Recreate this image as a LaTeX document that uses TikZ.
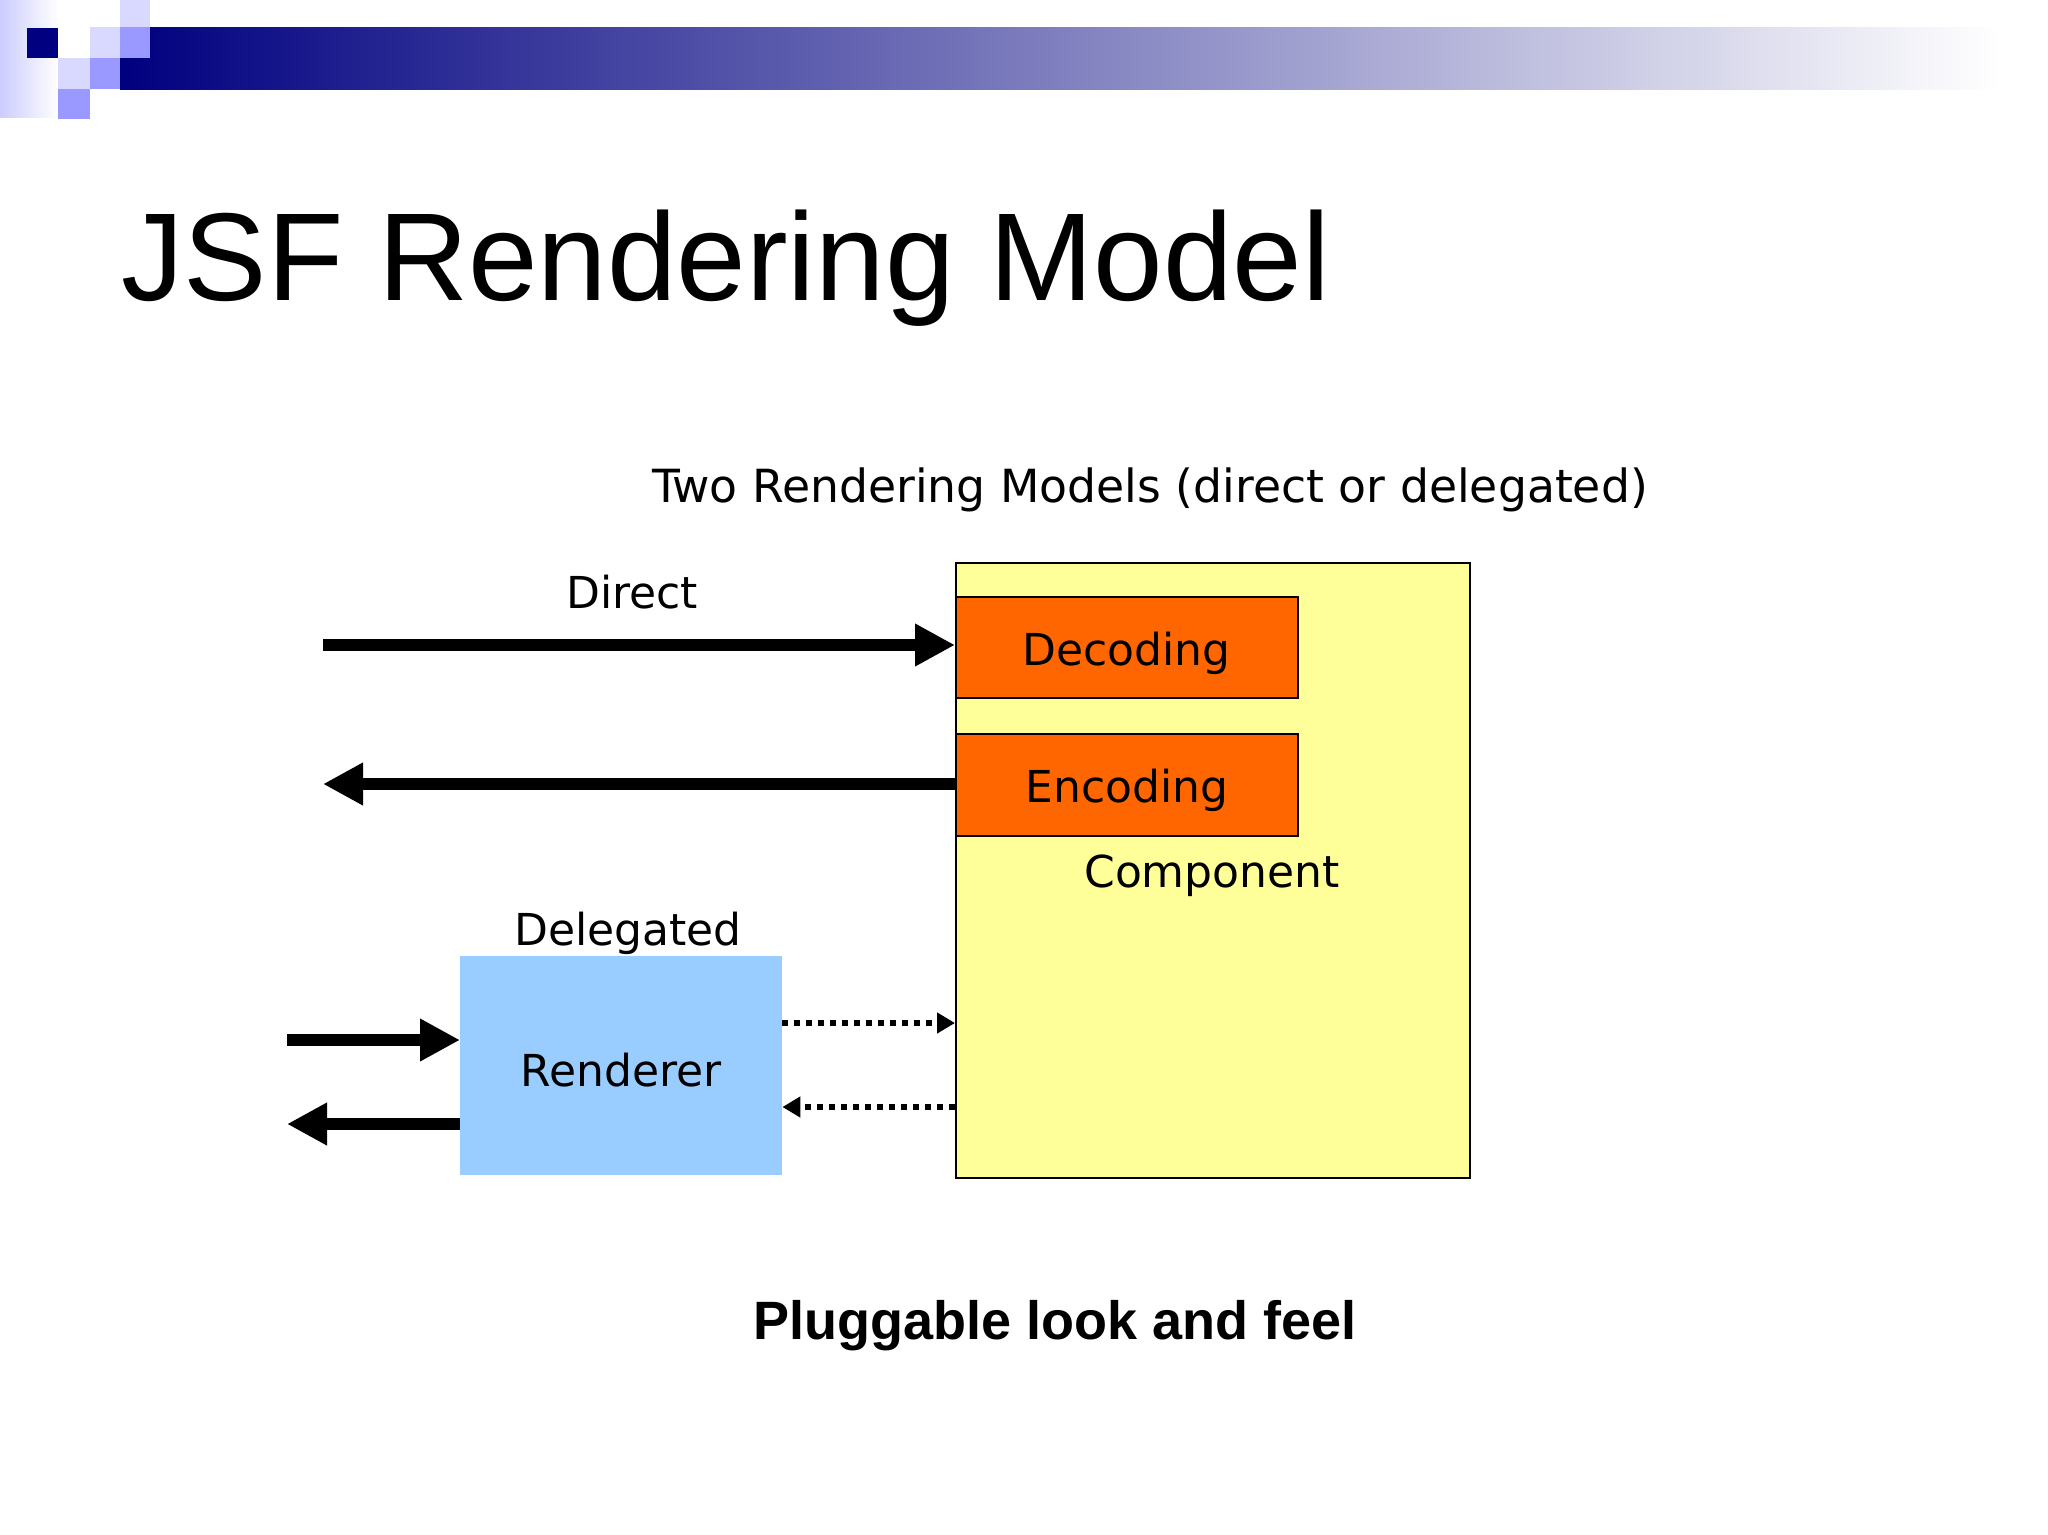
\documentclass[tikz,border=0pt]{standalone}
\usepackage{fontspec}
\setmainfont{Liberation Sans}
\newfontfamily\tah{DejaVu Sans}
\usetikzlibrary{arrows.meta}
\definecolor{compyellow}{RGB}{255,255,153}
\definecolor{partorange}{RGB}{255,102,0}
\definecolor{rendblue}{RGB}{153,204,255}
\tikzset{
  lbl/.style={font=\tah\fontsize{44}{50}\selectfont, inner sep=0},
  box/.style={draw=black, line width=1.5, inner sep=0, anchor=north west},
  fat/.style={line width=12, -{Triangle[length=40, width=40]}},
  dots/.style={line width=6, dash pattern=on 6 off 6, -{Triangle[length=18, width=20]}},
}
\begin{document}
\begin{tikzpicture}[x=1pt, y=-1pt]
\useasboundingbox (0,0) rectangle (2048,1534);
% header decoration
\shade[left color=blue!20!white, right color=white] (0,0) rectangle (58,117);
\shade[left color=blue!50!black, right color=white] (120,27) rectangle (2000,89);
\fill[blue!15!white] (120,0) rectangle (150,27);
\fill[blue!15!white] (90,27) rectangle (120,58);
\fill[blue!40!white] (120,27) rectangle (150,58);
\fill[blue!15!white] (58,58) rectangle (90,89);
\fill[blue!40!white] (90,58) rectangle (120,89);
\fill[blue!40!white] (58,89) rectangle (90,119);
\fill[blue!50!black] (27,28) rectangle (58,58);
% title
\node (title) [anchor=base west, inner sep=0, font=\fontsize{125}{140}\selectfont] at (121,300) {JSF Rendering Model};
\node (sub) [lbl, font=\tah\fontsize{45.7}{50}\selectfont] at (1150,490) {Two Rendering Models (direct or delegated)};
% component
\node (comp) [box, fill=compyellow, minimum width=514, minimum height=615] at (955,562) {};
\node (dec) [box, fill=partorange, minimum width=342, minimum height=101] at (955,596) {};
\node [lbl] at ([yshift=-6]dec.center) {Decoding};
\node (enc) [box, fill=partorange, minimum width=342, minimum height=102] at (955,733) {};
\node [lbl] at ([yshift=-6]enc.center) {Encoding};
\node (comptxt) [lbl] at (1212,876) {Component};
% renderer
\node (rend) [anchor=north west, fill=rendblue, minimum width=322, minimum height=219, inner sep=0] at (460,956) {};
\node [lbl] at ([yshift=-4]rend.center) {Renderer};
\node (direct) [lbl] at (632,592) {Direct};
\node (deleg) [lbl] at (628,933) {Delegated};
% connectors
\coordinate (d1) at (323,645);
\coordinate (d2) at (323,784);
\coordinate (r1) at (287,1040);
\coordinate (r2) at (287,1124);
\draw[fat] (d1) -- (comp.west |- d1);
\draw[fat] (comp.west |- d2) -- (d2);
\draw[fat] (r1) -- (rend.west |- r1);
\draw[fat] (rend.west |- r2) -- (r2);
\draw[dots] (rend.east |- 0,1023) -- (comp.west |- 0,1023);
\draw[dots] (comp.west |- 0,1107) -- (rend.east |- 0,1107);
\node (plug) [inner sep=0, font=\bfseries\fontsize{54}{60}\selectfont] at (1055,1326) {Pluggable look and feel};
\end{tikzpicture}
\end{document}
